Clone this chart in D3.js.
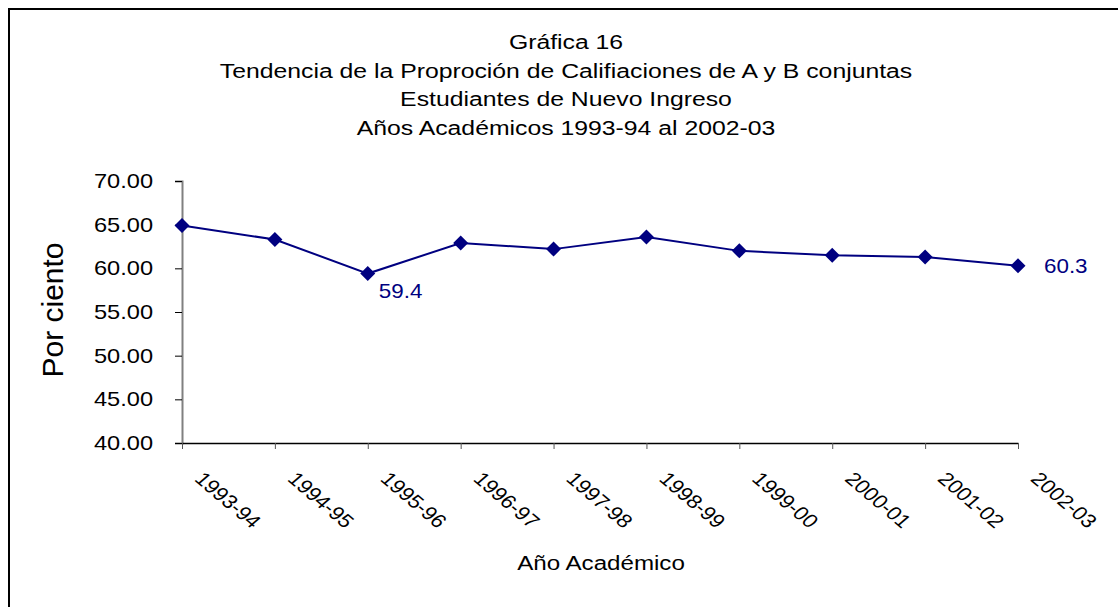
<!DOCTYPE html>
<html>
<head>
<meta charset="utf-8">
<script src="https://cdn.jsdelivr.net/npm/d3@7"></script>
<style>
body { margin: 0; background: #fff; }
svg { font-family: "Liberation Sans", Arial, sans-serif; }
</style>
</head>
<body>
<svg width="1118" height="607"></svg>
<script>
// data
var years = ['1993-94', '1994-95', '1995-96', '1996-97', '1997-98',
	'1998-99', '1999-00', '2000-01', '2001-02', '2002-03'];
var values = [64.9, 63.3, 59.4, 62.9, 62.2, 63.6, 62.0, 61.5, 61.3, 60.3];
var yTicks = [40, 45, 50, 55, 60, 65, 70];
var titleLines = ['Gráfica 16',
	'Tendencia de la Proproción de Califiaciones de A y B conjuntas',
	'Estudiantes de Nuevo Ingreso',
	'Años Académicos 1993-94 al 2002-03'];
var labelled = ['1995-96', '2002-03'];

var svg = d3.select('svg');
var navy = '#000080';
var stretch = 1.18; // the picture is a bit wider than tall

// outer frame (runs off the right / bottom of the picture)
svg.append('rect')
	.attr('x', 9)
	.attr('y', 9)
	.attr('width', 1200)
	.attr('height', 700)
	.attr('fill', 'none')
	.attr('stroke', '#000')
	.attr('stroke-width', 2);

var x = d3.scalePoint().domain(years).range([182, 1018]);
var y = d3.scaleLinear().domain([40, 70]).range([443, 181]);

// title
svg.append('g').selectAll('text')
	.data(titleLines)
	.enter().append('text')
	.attr('transform', function(d, i) {
		return 'translate(566,' + (49 + i * 28.7) + ') scale(' + stretch + ',1)';
	})
	.attr('text-anchor', 'middle')
	.attr('font-size', 21)
	.attr('fill', '#000')
	.text(function(d) { return d; });

// y axis
var yAxis = svg.append('g')
	.attr('transform', 'translate(182,0)')
	.call(d3.axisLeft(y).tickValues(yTicks).tickSize(7)
		.tickFormat(d3.format('.2f')));
yAxis.select('.domain').attr('stroke', '#808080').attr('stroke-width', 2);
yAxis.selectAll('.tick line').attr('stroke', '#000');
yAxis.selectAll('.tick text')
	.attr('x', 0)
	.attr('transform', 'translate(-29,0) scale(' + stretch + ',1)')
	.attr('font-size', 20)
	.attr('fill', '#000')
	.attr('font-family', '"Liberation Sans", Arial, sans-serif');

// x axis
var xAxis = svg.append('g')
	.attr('transform', 'translate(0,443)')
	.call(d3.axisBottom(x).tickSize(6).tickSizeOuter(0));
xAxis.select('.domain').attr('stroke', '#000').attr('stroke-width', 1.5);
xAxis.selectAll('.tick line').attr('stroke', '#555');
xAxis.selectAll('.tick text')
	.attr('font-size', 19)
	.attr('fill', '#000')
	.attr('font-family', '"Liberation Sans", Arial, sans-serif')
	.attr('text-anchor', 'start')
	.attr('dy', 0)
	.attr('y', 0)
	.attr('transform', 'translate(11,37) scale(' + stretch + ',1) rotate(45)');

// axis titles
svg.append('text')
	.attr('transform', 'translate(601,570) scale(1.15,1)')
	.attr('text-anchor', 'middle')
	.attr('font-size', 21)
	.text('Año Académico');

svg.append('text')
	.attr('transform', 'translate(63,310) rotate(-90)')
	.attr('text-anchor', 'middle')
	.attr('font-size', 30)
	.text('Por ciento');

// line + markers
var line = d3.line()
	.x(function(d, i) { return x(years[i]); })
	.y(function(d) { return y(d); });

svg.append('path')
	.datum(values)
	.attr('d', line)
	.attr('fill', 'none')
	.attr('stroke', navy)
	.attr('stroke-width', 2);

svg.append('g').selectAll('path')
	.data(values)
	.enter().append('path')
	.attr('d', 'M0,-7.5L7.5,0L0,7.5L-7.5,0Z')
	.attr('fill', navy)
	.attr('transform', function(d, i) {
		return 'translate(' + x(years[i]) + ',' + y(d) + ')';
	});

// data labels
svg.append('g').selectAll('text')
	.data(values.map(function(v, i) { return {year: years[i], v: v}; })
		.filter(function(d) { return labelled.indexOf(d.year) >= 0; }))
	.enter().append('text')
	.attr('transform', function(d, i) {
		var dx = i == 0 ? 11 : 26, dy = i == 0 ? 24 : 7.5;
		return 'translate(' + (x(d.year) + dx) + ',' + (y(d.v) + dy) + ') scale(1.12,1)';
	})
	.attr('font-size', 20)
	.attr('fill', navy)
	.text(function(d) { return d.v.toFixed(1); });
</script>
</body>
</html>
